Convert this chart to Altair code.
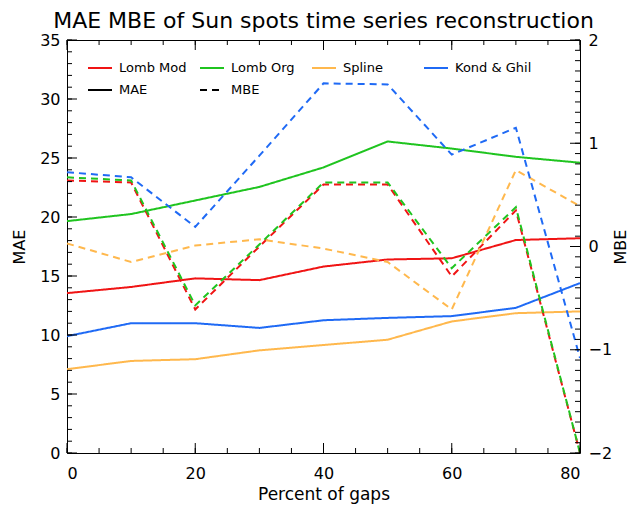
import altair as alt
import pandas as pd

pct = [0, 10, 20, 30, 40, 50, 60, 70, 80]
methods = ["Lomb Mod", "Lomb Org", "Spline", "Kond & Ghil"]
colors = ["#f01414", "#1fc41f", "#ffb84d", "#1f6af5"]

mae_lomb_mod = [13.55, 14.07, 14.8, 14.65, 15.8, 16.4, 16.5, 18.05, 18.2]
mae_lomb_org = [19.65, 20.25, 21.4, 22.55, 24.2, 26.4, 25.8, 25.1, 24.6]
mae_spline = [7.1, 7.8, 7.95, 8.7, 9.15, 9.6, 11.15, 11.85, 12.0]
mae_kond = [9.9, 11.0, 11.0, 10.6, 11.25, 11.45, 11.6, 12.3, 14.4]

mbe_lomb_mod = [0.64, 0.62, -0.61, 0.0, 0.6, 0.6, -0.29, 0.35, -2.0]
mbe_lomb_org = [0.67, 0.64, -0.57, 0.02, 0.62, 0.62, -0.21, 0.38, -2.0]
mbe_spline = [0.03, -0.15, 0.01, 0.07, -0.02, -0.15, -0.61, 0.74, 0.39]
mbe_kond = [0.72, 0.67, 0.19, 0.88, 1.58, 1.57, 0.89, 1.15, -1.08]

mae_ticks = list(range(0, 36, 5))
mae_minor = list(range(0, 36, 1))
mbe_ticks = [-2, -1, 0, 1, 2]
mbe_minor = [round(-2 + 0.1 * i, 1) for i in range(41)]
x_ticks = [0, 20, 40, 60, 80]
x_minor = list(range(0, 81, 5))

W, H = 513, 413
MAJOR, MINOR = 10, 5

rows = []
for m, series in zip(methods, [mae_lomb_mod, mae_lomb_org, mae_spline, mae_kond]):
    for p, v in zip(pct, series):
        rows.append({"pct": p, "method": m, "metric": "MAE", "value": v})
for m, series in zip(methods, [mbe_lomb_mod, mbe_lomb_org, mbe_spline, mbe_kond]):
    for p, v in zip(pct, series):
        rows.append({"pct": p, "method": m, "metric": "MBE", "value": v})
df = pd.DataFrame(rows)

FONT = "DejaVu Sans"

xscale = alt.Scale(domain=[0, 80], nice=False, zero=False)
mae_scale = alt.Scale(domain=[0, 35], nice=False, zero=False)
mbe_scale = alt.Scale(domain=[-2, 2], nice=False, zero=False)

color = alt.Color(
    "method:N",
    scale=alt.Scale(domain=methods, range=colors),
    legend=alt.Legend(
        title=None, orient="none", legendX=20, legendY=15, columns=4,
        symbolType="stroke", symbolSize=576, symbolStrokeWidth=2,
        symbolDash=[1, 0], labelFont=FONT, labelFontSize=13,
        labelColor="black", labelOffset=6, columnPadding=0, padding=0,
        gridAlign="all",
    ),
)
dash = alt.StrokeDash(
    "metric:N",
    scale=alt.Scale(domain=["MAE", "MBE"], range=[[1, 0], [7, 5]]),
    legend=alt.Legend(
        title=None, orient="none", legendX=20, legendY=37, columns=2,
        symbolType="stroke", symbolSize=576, symbolStrokeWidth=2,
        symbolStrokeColor="black", labelFont=FONT, labelFontSize=13,
        labelColor="black", labelOffset=6, columnPadding=48, padding=0,
        gridAlign="all",
    ),
)

common_axis = dict(domain=False, grid=False, ticks=False,
                   labelFont=FONT, labelColor="black", titleFont=FONT,
                   titleColor="black", titleFontWeight="normal")

mae_layer = alt.Chart(df).transform_filter(alt.datum.metric == "MAE").mark_line(
    strokeWidth=2, clip=True
).encode(
    x=alt.X("pct:Q", scale=xscale, axis=alt.Axis(
        orient="bottom", values=x_ticks, labelFontSize=16, labelPadding=12,
        title="Percent of gaps", titleFontSize=17, titlePadding=5, **common_axis)),
    y=alt.Y("value:Q", scale=mae_scale, axis=alt.Axis(
        orient="left", values=mae_ticks, labelFontSize=16, labelPadding=7,
        title="MAE", titleFontSize=16, titlePadding=12, **common_axis)),
    color=color,
    strokeDash=dash,
    detail="method:N",
)

mbe_layer = alt.Chart(df).transform_filter(alt.datum.metric == "MBE").mark_line(
    strokeWidth=2, clip=True
).encode(
    x=alt.X("pct:Q", scale=xscale, axis=None),
    y=alt.Y("value:Q", scale=mbe_scale, axis=alt.Axis(
        orient="right", values=mbe_ticks, labelFontSize=16, labelPadding=8,
        title="MBE", titleFontSize=16, titlePadding=17, titleAngle=270,
        **common_axis)),
    color=color,
    strokeDash=dash,
    detail="method:N",
)


def yticks(values, scale, x0, x1):
    d = pd.DataFrame({"tick": values})
    return alt.Chart(d).mark_rule(color="black", strokeWidth=1).encode(
        y=alt.Y("tick:Q", scale=scale, axis=None),
        x=alt.value(x0), x2=alt.value(x1),
    )


def xticks(values, y0, y1):
    d = pd.DataFrame({"tick": values})
    return alt.Chart(d).mark_rule(color="black", strokeWidth=1).encode(
        x=alt.X("tick:Q", scale=xscale, axis=None),
        y=alt.value(y0), y2=alt.value(y1),
    )


tick_layers = [
    yticks(mae_ticks, mae_scale, 0, MAJOR),
    yticks(mae_minor, mae_scale, 0, MINOR),
    yticks(mbe_ticks, mbe_scale, W, W - MAJOR),
    yticks(mbe_minor, mbe_scale, W, W - MINOR),
    xticks(x_ticks, H, H - MAJOR),
    xticks(x_minor, H, H - MINOR),
    xticks(x_ticks, 0, MAJOR),
    xticks(x_minor, 0, MINOR),
]

chart = alt.layer(mae_layer, mbe_layer, *tick_layers).resolve_scale(
    x="independent", y="independent"
).resolve_axis(
    x="independent", y="independent"
).properties(
    width=W,
    height=H,
    autosize=alt.AutoSizeParams(type="none"),
    padding={"left": 59, "top": 32, "right": 50, "bottom": 52},
    title=alt.TitleParams(
        "MAE MBE of Sun spots time series reconstruction",
        font=FONT, fontSize=22, fontWeight="normal", color="black",
        anchor="middle", offset=7, dy=8,
    ),
    background="white",
).configure_view(
    stroke="black", strokeWidth=1
)

chart.save("out.html", embed_options={"renderer": "svg", "actions": False})
